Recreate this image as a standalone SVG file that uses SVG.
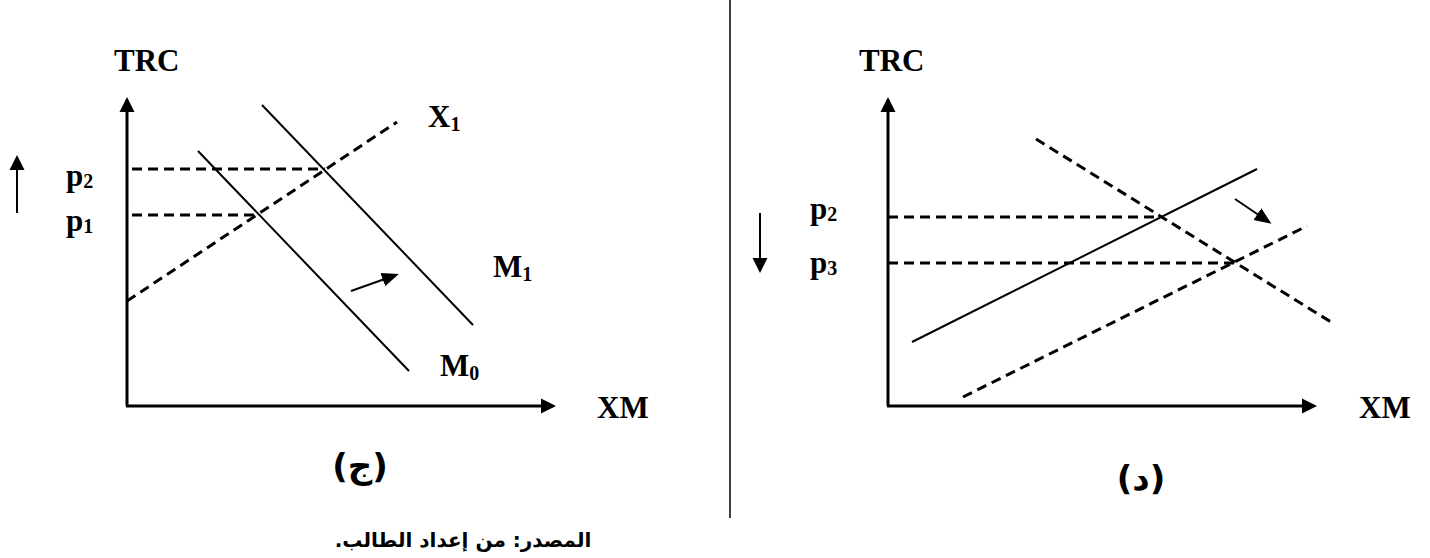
<svg xmlns="http://www.w3.org/2000/svg" width="1430" height="558" viewBox="0 0 1430 558">
<style>
.lbl{font-family:"Liberation Serif","Times New Roman",serif;font-weight:bold;font-size:31px;fill:#000}
.sub{font-size:20px}
.ar{font-family:"DejaVu Sans","Noto Sans",sans-serif;font-weight:bold;fill:#000}
.axis{stroke:#000;stroke-width:3;fill:none}
.solid{stroke:#000;stroke-width:2;fill:none}
.dash{stroke:#000;stroke-width:3;fill:none;stroke-dasharray:10 6}
.arr{stroke:#000;stroke-width:2;fill:none}
</style>
<defs>
<marker id="head" markerUnits="userSpaceOnUse" markerWidth="16" markerHeight="16" refX="12" refY="8" orient="auto" viewBox="0 0 16 16">
<path d="M0,0.5 L15,8 L0,15.5 z" fill="#000"/>
</marker>
<marker id="headS" markerUnits="userSpaceOnUse" markerWidth="18" markerHeight="16" refX="14" refY="8" orient="auto" viewBox="0 0 18 16">
<path d="M0,1 L17,8 L0,15 z" fill="#000"/>
</marker>
</defs>

<line x1="730" y1="0" x2="730" y2="518" stroke="#000" stroke-width="1.5"/>

<g id="panel-c">
<g id="connectors-c">
<line class="axis" x1="127" y1="406" x2="127" y2="100" marker-end="url(#head)"/>
<line class="axis" x1="126" y1="406" x2="553" y2="406" marker-end="url(#head)"/>
<line class="dash" x1="132" y1="169" x2="325" y2="169"/>
<line class="dash" x1="132" y1="215" x2="258" y2="215"/>
<line class="dash" x1="127" y1="301" x2="397" y2="122"/>
<line class="solid" x1="198" y1="151" x2="409" y2="371"/>
<line class="solid" x1="262" y1="105" x2="473" y2="325"/>
<line class="arr" x1="351" y1="291" x2="396" y2="275" marker-end="url(#headS)"/>
<line class="arr" x1="17" y1="213" x2="17" y2="158" marker-end="url(#head)"/>
</g>
<g id="labels-c">
<text class="lbl" x="114" y="71">TRC</text>
<text class="lbl" x="66" y="186">p<tspan class="sub" dy="2">2</tspan></text>
<text class="lbl" x="66" y="231">p<tspan class="sub" dy="2">1</tspan></text>
<text class="lbl" x="428" y="127">X<tspan class="sub" dy="4">1</tspan></text>
<text class="lbl" x="493" y="277">M<tspan class="sub" dy="4">1</tspan></text>
<text class="lbl" x="440" y="376">M<tspan class="sub" dy="4">0</tspan></text>
<text class="lbl" x="597" y="418">XM</text>
<text class="ar" x="360" y="478" font-size="34" text-anchor="middle">(ج)</text>
<text class="ar" x="463" y="547" font-size="20" text-anchor="middle" direction="rtl">المصدر: من إعداد الطالب.</text>
</g>
</g>

<g id="panel-d">
<g id="connectors-d">
<line class="axis" x1="888" y1="406" x2="888" y2="100" marker-end="url(#head)"/>
<line class="axis" x1="887" y1="406" x2="1314" y2="406" marker-end="url(#head)"/>
<line class="dash" x1="888" y1="217" x2="1160" y2="217"/>
<line class="dash" x1="888" y1="263" x2="1235" y2="263"/>
<line class="dash" x1="1036" y1="139" x2="1331" y2="322"/>
<line class="solid" x1="912" y1="342" x2="1257" y2="169"/>
<line class="dash" x1="963" y1="397" x2="1307" y2="226"/>
<line class="arr" x1="1235" y1="199" x2="1269" y2="222" marker-end="url(#headS)"/>
<line class="arr" x1="760" y1="213" x2="760" y2="270" marker-end="url(#head)"/>
</g>
<g id="labels-d">
<text class="lbl" x="859" y="71">TRC</text>
<text class="lbl" x="810" y="219">p<tspan class="sub" dy="2">2</tspan></text>
<text class="lbl" x="810" y="273">p<tspan class="sub" dy="2">3</tspan></text>
<text class="lbl" x="1359" y="418">XM</text>
<text class="ar" x="1141" y="490" font-size="34" text-anchor="middle">(د)</text>
</g>
</g>
</svg>
